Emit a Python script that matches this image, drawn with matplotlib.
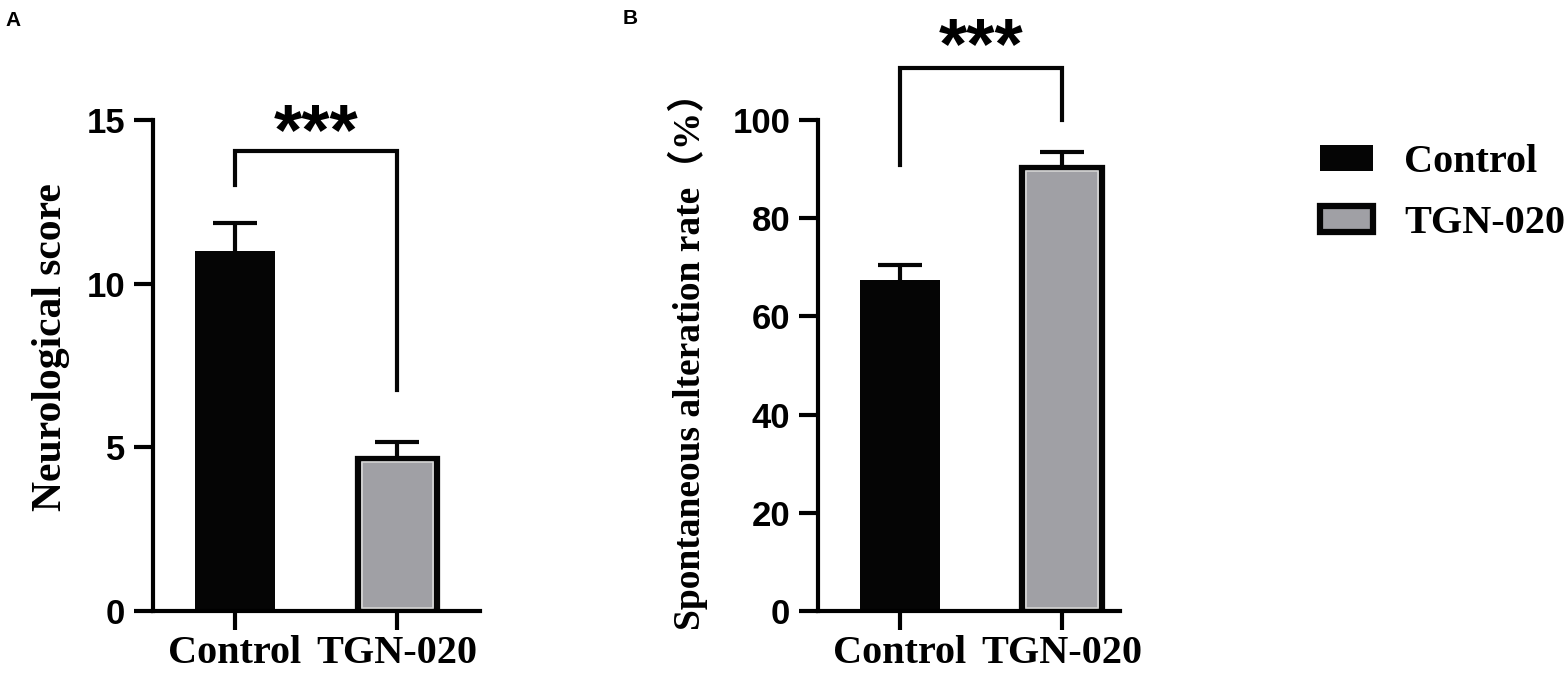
import numpy as np
import matplotlib; matplotlib.use("Agg")
import matplotlib.pyplot as plt
from matplotlib.patches import Patch

# data
groups = ['Control', 'TGN-020']
neuro_mean = [11.0, 4.65]
neuro_sem = [0.85, 0.5]
alt_mean = [67.4, 90.2]
alt_sem = [3.1, 3.3]

BLACK = '#050505'
GRAY = '#a0a0a5'
W, H = 1566, 683
SERIF = ['Liberation Serif', 'Noto Sans CJK SC', 'DejaVu Serif']
SANS = ['Liberation Sans', 'DejaVu Sans']

fig = plt.figure(figsize=(W / 100, H / 100), dpi=100)


def rect(x0, y0, x1, y1):
    # pixel box -> figure fraction
    return [x0 / W, 1 - y1 / H, (x1 - x0) / W, (y1 - y0) / H]


def panel(ax, means, sems, ylim, yticks, ylabel, lab_size, lab_xy, bracket, star_y, xmax):
    xs = np.arange(len(means))
    ax.bar(xs[0], means[0], width=0.49, color=BLACK, edgecolor=BLACK, lw=0, zorder=2)
    ax.bar(xs[1], means[1], width=0.49, color=GRAY, edgecolor=BLACK, lw=4.5, zorder=2)
    # thin light line inside the gray bar
    ax.bar(xs[1], means[1] - ylim[1] * 0.012, bottom=ylim[1] * 0.006, width=0.44,
           color='none', edgecolor='#d8d8d8', lw=1.2, zorder=3)
    # upper-only error bars
    tops = np.array(means) + np.array(sems)
    ax.vlines(xs, means, tops, color=BLACK, lw=3, zorder=1)
    ax.hlines(tops, xs - 0.135, xs + 0.135, color=BLACK, lw=3, zorder=1)
    ax.set_xlim(-0.506, xmax)
    ax.set_ylim(*ylim)
    ax.set_yticks(yticks)
    ax.set_xticks(xs)
    ax.set_xticklabels(groups, fontsize=29, fontweight='bold', family=SERIF)
    for lab in ax.get_yticklabels():
        lab.set_fontsize(25); lab.set_fontweight('bold'); lab.set_family(SANS)
    ax.tick_params(axis='y', length=14, width=3, pad=6)
    ax.tick_params(axis='x', length=14, width=3, pad=3)
    for sp in ['top', 'right']:
        ax.spines[sp].set_visible(False)
    for sp in ['left', 'bottom']:
        ax.spines[sp].set_linewidth(3)
    ax.set_ylabel(ylabel, fontsize=lab_size, fontweight='bold', family=SERIF)
    ax.yaxis.set_label_coords(*lab_xy)
    top, lleg, rleg = bracket
    ax.plot([0, 0, 1, 1], [lleg, top, top, rleg], color=BLACK, lw=3, clip_on=False,
            solid_joinstyle='miter')
    ax.text(0.5, star_y, '***', ha='center', va='center', fontsize=52,
            fontweight='bold', family=SANS, clip_on=False)


axA = fig.add_axes(rect(153, 120, 480, 611))
panel(axA, neuro_mean, neuro_sem, (0, 15), [0, 5, 10, 15], 'Neurological score', 30,
      (-0.254, 0.537), (14.04, 13.0, 6.76), 14.55, 1.51)

axB = fig.add_axes(rect(818, 120, 1120, 611))
panel(axB, alt_mean, alt_sem, (0, 100), [0, 20, 40, 60, 80, 100],
      'Spontaneous alteration rate\uff08%\uff09', 27, (-0.363, 0.527),
      (110.6, 90.8, 100.0), 114.5, 1.358)

fig.text(5 / W, 1 - 20 / H, 'A', fontsize=15, fontweight='bold', family=SANS, va='center')
fig.text(623 / W, 1 - 18 / H, 'B', fontsize=15, fontweight='bold', family=SANS, va='center')

handles = [Patch(facecolor=BLACK, edgecolor=BLACK, lw=0),
           Patch(facecolor=GRAY, edgecolor=BLACK, lw=4.5)]
fig.legend(handles, groups, loc='upper left', bbox_to_anchor=(1284 / W, 1 - 108 / H),
           frameon=False, prop={'family': SERIF, 'weight': 'bold', 'size': 29},
           handlelength=1.3, handleheight=0.6, handletextpad=0.78, labelspacing=0.6)

fig.savefig('out.png', dpi=100)
